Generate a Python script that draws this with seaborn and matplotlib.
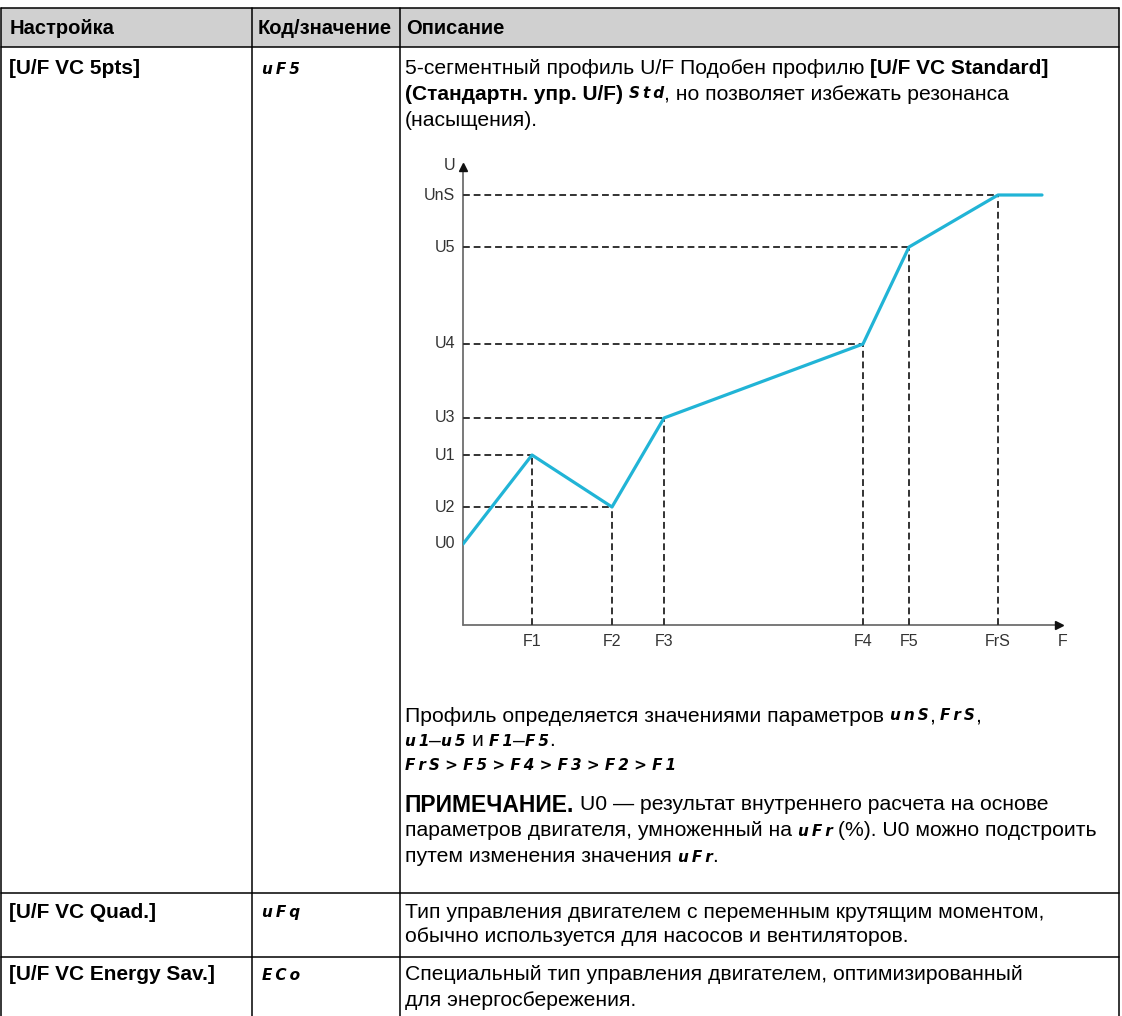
import numpy as np
import pandas as pd
import seaborn as sns
import matplotlib.pyplot as plt
from matplotlib.patches import Rectangle

W, H = 1122, 1016

# --- chart values (distance from the origin) ---
f_labels = ['F1', 'F2', 'F3', 'F4', 'F5', 'FrS']
f_values = [69, 149, 201, 400, 446, 535]
u_labels = ['U1', 'U2', 'U3', 'U4', 'U5', 'UnS']
u_values = [170, 118, 207, 281, 378, 430]
u0 = 81
f_end = 579

# --- table text ---
header = ['Настройка', 'Код/значение', 'Описание']
settings = ['[U/F VC 5pts]', '[U/F VC Quad.]', '[U/F VC Energy Sav.]']
codes = ['uF5', 'uFq', 'ECo']

desc_top = [
    [('5-сегментный профиль U/F Подобен профилю ', 'n'), ('[U/F VC Standard]', 'b')],
    [('(Стандартн. упр. U/F) ', 'b'), ('Std', 'c'), (', но позволяет избежать резонанса', 'n')],
    [('(насыщения).', 'n')],
]
desc_bottom = [
    [('Профиль определяется значениями параметров ', 'n'), ('unS', 'c'), (', ', 'n'),
     ('FrS', 'c'), (',', 'n')],
    [('u1', 'c'), ('–', 'n'), ('u5', 'c'), (' и ', 'n'), ('F1', 'c'), ('–', 'n'),
     ('F5', 'c'), ('.', 'n')],
    [('FrS > F5 > F4 > F3 > F2 > F1', 'c')],
]
note = [
    [('ПРИМЕЧАНИЕ.', 'h'), (' U0 — результат внутреннего расчета на основе', 'n')],
    [('параметров двигателя, умноженный на ', 'n'), ('uFr', 'c'),
     (' (%). U0 можно подстроить', 'n')],
    [('путем изменения значения ', 'n'), ('uFr', 'c'), ('.', 'n')],
]
desc_quad = ['Тип управления двигателем с переменным крутящим моментом,',
             'обычно используется для насосов и вентиляторов.']
desc_energy = ['Специальный тип управления двигателем, оптимизированный',
               'для энергосбережения.']

# --- layout ---
col_x = [1, 252, 400, 1119]
row_y = [8, 47, 893, 957, 1016]
origin = (463, 625)

sns.set_theme(style='white')
plt.rcParams['font.family'] = ['Liberation Sans', 'DejaVu Sans']

STYLE = {
    'n': dict(fontsize=15.2, color='black'),
    'b': dict(fontsize=15, fontweight='bold', color='black'),
    'hd': dict(fontsize=14.5, fontweight='bold', color='black'),
    'h': dict(fontsize=16.5, fontweight='bold', color='black'),
    'c': dict(fontsize=11, fontweight='bold', fontstyle='oblique',
              family='DejaVu Sans', color='black'),
}


def seg(s):
    # display-style code: thin gaps between the characters
    return ' '.join('\u2009'.join(w) for w in s.split(' '))


fig = plt.figure(figsize=(W / 100, H / 100), dpi=100)
bg = fig.add_axes([0, 0, 1, 1])
bg.set_xlim(0, W)
bg.set_ylim(H, 0)
bg.axis('off')
renderer = fig.canvas.get_renderer()


def space_w(kind):
    return STYLE[kind]['fontsize'] * 100 / 72 * 0.278


def runs(x, y, parts):
    for s, kind in parts:
        lead = len(s) - len(s.lstrip(' '))
        trail = len(s) - len(s.rstrip(' '))
        x += lead * space_w(kind)
        body = s.strip(' ')
        if kind == 'c':
            body = seg(body)
        t = bg.text(x, y, body, va='center', ha='left', **STYLE[kind])
        x += t.get_window_extent(renderer).width
        x += trail * space_w(kind)


# table frame
bg.add_patch(Rectangle((col_x[0], row_y[0]), col_x[-1] - col_x[0], row_y[1] - row_y[0],
                       facecolor='#d0d0d0', edgecolor='none'))
for y in row_y[:-1]:
    bg.plot([col_x[0], col_x[-1]], [y, y], color='black', lw=1.1)
for x in col_x:
    bg.plot([x, x], [row_y[0], row_y[-1]], color='black', lw=1.1)

# header
for x, dx, s in zip(col_x[:3], [9, 6, 6], header):
    bg.text(x + dx, 28, s, va='center', ha='left', **STYLE['hd'])

# first two columns
for y, s, c in zip([69, 912, 975], settings, codes):
    bg.text(col_x[0] + 8, y, s, va='center', ha='left', **STYLE['b'])
    bg.text(col_x[1] + 10, y, seg(c), va='center', ha='left', **STYLE['c'])

# description column
tx = col_x[2] + 5
for y, line in zip([69, 94, 120], desc_top):
    runs(tx, y, line)
for y, line in zip([716, 741, 766], desc_bottom):
    runs(tx, y, line)
for y, line in zip([805, 831, 857], note):
    runs(tx, y, line)
for y, s in zip([912, 936], desc_quad):
    bg.text(tx, y, s, va='center', ha='left', **STYLE['n'])
for y, s in zip([975, 1000], desc_energy):
    bg.text(tx, y, s, va='center', ha='left', **STYLE['n'])

# --- U/F chart ---
ax = fig.add_axes([origin[0] / W, 1 - origin[1] / H, 620 / W, 475 / H])
ax.set_facecolor('none')
ax.set_xlim(0, 620)
ax.set_ylim(0, 475)
ax.axis('off')

profile = pd.DataFrame({
    'F': [0] + f_values + [f_end],
    'U': [u0] + u_values + [u_values[-1]],
})

dash = dict(color='#333333', lw=1.4, dashes=(3.5, 2.0), zorder=2)
for f, u in zip(f_values, u_values):
    ax.plot([0, f], [u, u], **dash)
    ax.plot([f, f], [0, u], **dash)

sns.lineplot(data=profile, x='F', y='U', ax=ax, color='#21b4d6', linewidth=2.3,
             estimator=None, sort=False, zorder=3)
ax.set_xlabel('')
ax.set_ylabel('')

# axes with arrows
ax.plot([0, 596], [0, 0], color='#6e6e6e', lw=1.3, clip_on=False, zorder=1)
ax.plot([0, 0], [0, 458], color='#6e6e6e', lw=1.3, clip_on=False, zorder=1)
ax.plot([596], [0], marker='>', color='#111111', ms=6, clip_on=False)
ax.plot([0], [458], marker='^', color='#111111', ms=6, clip_on=False)

lab = dict(fontsize=11.5, color='#333333', va='center')
for f, s in zip(f_values, f_labels):
    ax.text(f, -16, s, ha='center', **lab)
ax.text(600, -16, 'F', ha='center', **lab)
for u, s in zip([u0] + u_values, ['U0'] + u_labels):
    ax.text(-8, u, s, ha='right', **lab)
ax.text(-8, 460, 'U', ha='right', **lab)

fig.savefig('out.png', dpi=100)
